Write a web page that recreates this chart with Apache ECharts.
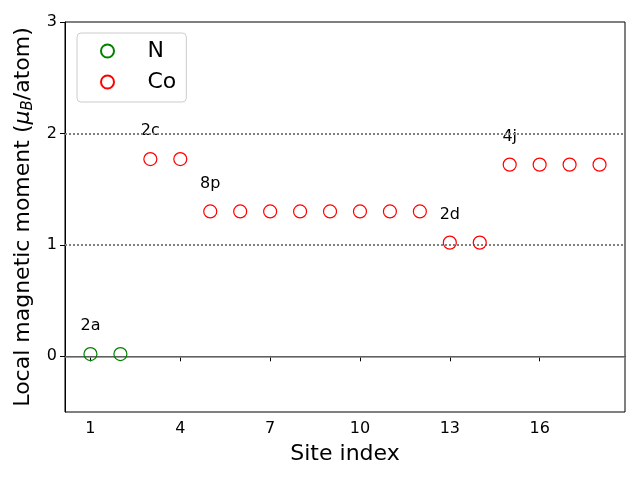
<!DOCTYPE html>
<html>
<head>
<meta charset="utf-8">
<script src="https://cdn.jsdelivr.net/npm/echarts@6/dist/echarts.min.js"></script>
<style>html,body{margin:0;padding:0;background:#fff}#c{width:640px;height:480px}</style>
</head>
<body>
<div id="c"></div>
<script>
const nSites = [1, 2];
const nValues = [0.02, 0.02];
const coSites = [3, 4, 5, 6, 7, 8, 9, 10, 11, 12, 13, 14, 15, 16, 17, 18];
const coValues = [1.77, 1.77, 1.30, 1.30, 1.30, 1.30, 1.30, 1.30, 1.30, 1.30, 1.02, 1.02, 1.72, 1.72, 1.72, 1.72];
const groupSites = [1, 3, 5, 13, 15];
const groupNames = ['2a', '2c', '8p', '2d', '4j'];
const xTicks = [1, 4, 7, 10, 13, 16];
const yTicks = [0, 1, 2, 3];

const allSites = nSites.concat(coSites);
const allValues = nValues.concat(coValues);
const labelData = groupSites.map((s, i) => [s, allValues[allSites.indexOf(s)] + 0.25, groupNames[i]]);

const FONT = 'DejaVu Sans';
const chart = echarts.init(document.getElementById('c'), null, {renderer: 'canvas'});
const dotted = {color: '#808080', width: 2, type: [2, 2]};
chart.setOption({
  animation: false,
  textStyle: {fontFamily: FONT},
  grid: {left: 65, right: 15, top: 22, bottom: 68, show: true, borderColor: '#000', borderWidth: 1, backgroundColor: 'transparent'},
  legend: {
    data: ['N', 'Co'], orient: 'vertical', left: 77, top: 33,
    padding: [6, 10, 8, 23], itemGap: 7, itemWidth: 30, itemHeight: 13,
    borderColor: '#cccccc', borderWidth: 1, borderRadius: 4, backgroundColor: 'rgba(255,255,255,0.8)',
    textStyle: {fontSize: 22, color: '#000', lineHeight: 24, padding: [0, 0, 0, 20], fontFamily: FONT}
  },
  xAxis: {
    type: 'value', min: 0.15, max: 18.85,
    name: 'Site index', nameLocation: 'middle', nameGap: 31,
    nameTextStyle: {fontSize: 22, color: '#000', fontFamily: FONT},
    splitLine: {show: false},
    axisLine: {show: true, lineStyle: {color: '#000', width: 1}},
    axisTick: {show: true, length: 5, lineStyle: {color: '#000'}, customValues: xTicks},
    axisLabel: {fontSize: 16, color: '#000', margin: 9, customValues: xTicks, fontFamily: FONT}
  },
  yAxis: {
    type: 'value', min: -0.5, max: 3,
    name: '{t|Local magnetic moment (}{m|μ}{s|B}{t|/atom)}',
    nameLocation: 'middle', nameGap: 22, nameRotate: 90,
    nameTextStyle: {fontSize: 22, color: '#000', fontFamily: FONT,
      rich: {
        t: {fontSize: 22, color: '#000', fontFamily: FONT},
        m: {fontSize: 22, color: '#000', fontStyle: 'italic', fontFamily: FONT},
        s: {fontSize: 15, color: '#000', fontStyle: 'italic', fontFamily: FONT, verticalAlign: 'bottom', padding: [10, 0, 0, 0]}
      }},
    splitLine: {show: false},
    axisLine: {show: true, lineStyle: {color: '#000', width: 1}},
    axisTick: {show: true, length: 5, lineStyle: {color: '#000'}, customValues: yTicks},
    axisLabel: {fontSize: 16, color: '#000', margin: 8, customValues: yTicks, fontFamily: FONT}
  },
  series: [
    {
      name: 'N', type: 'scatter', symbol: 'circle', symbolSize: 13,
      itemStyle: {color: 'rgba(0,0,0,0)', borderColor: '#008000', borderWidth: 1.2, opacity: 1},
      data: nSites.map((s, i) => [s, nValues[i]]), z: 5,
      markLine: {
        silent: true, symbol: 'none', label: {show: false},
        data: [
          {yAxis: 0, lineStyle: {color: '#808080', width: 1.5, type: 'solid'}},
          {yAxis: 1, lineStyle: dotted},
          {yAxis: 2, lineStyle: dotted}
        ]
      }
    },
    {
      name: 'Co', type: 'scatter', symbol: 'circle', symbolSize: 13,
      itemStyle: {color: 'rgba(0,0,0,0)', borderColor: '#ff0000', borderWidth: 1.2, opacity: 1},
      data: coSites.map((s, i) => [s, coValues[i]]), z: 5
    },
    {
      name: 'labels', type: 'scatter', symbolSize: 0, silent: true,
      itemStyle: {opacity: 1},
      data: labelData,
      label: {show: true, position: 'inside', formatter: p => p.data[2], fontSize: 16, color: '#000', opacity: 1, fontFamily: FONT}
    }
  ]
});
</script>
</body>
</html>
